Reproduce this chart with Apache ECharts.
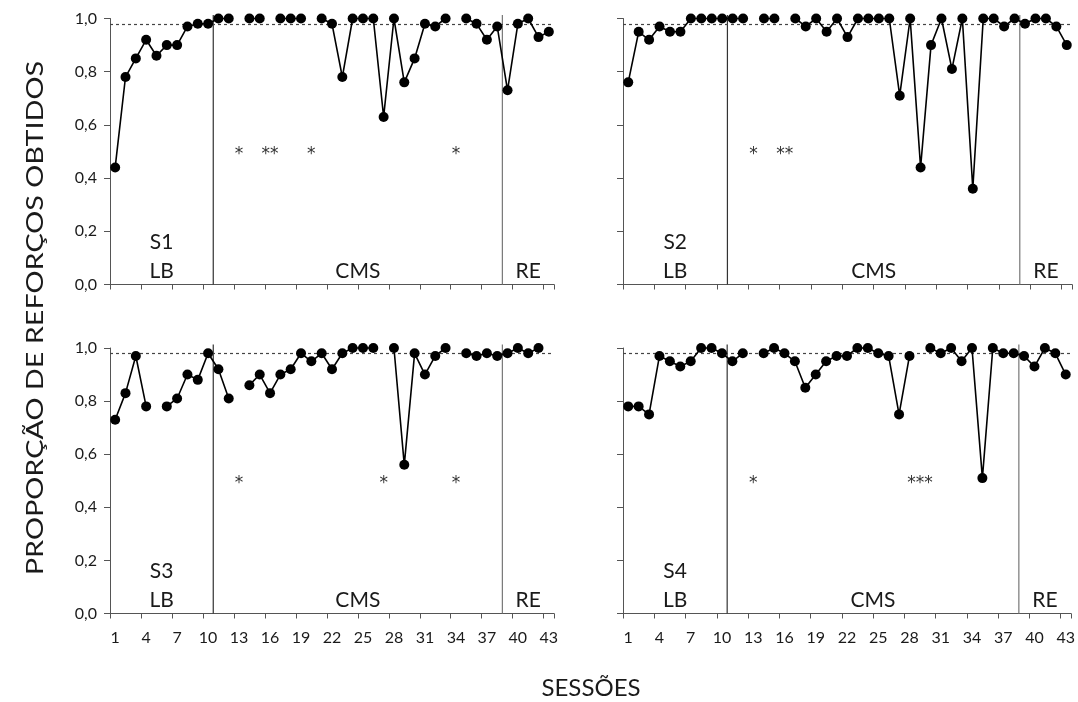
<!DOCTYPE html>
<html>
<head>
<meta charset="utf-8">
<script src="https://cdn.jsdelivr.net/npm/echarts@6/dist/echarts.min.js"></script>
<style>html,body{margin:0;padding:0;background:#fff}#c{width:1078px;height:702px}</style>
</head>
<body>
<div id="c"></div>
<script>
// ---- data ----
const sessions = ['1','2','3','4','5','6','7','8','9','10','11','12','13','14','15','16','17','18','19','20','21','22','23','24','25','26','27','28','29','30','31','32','33','34','35','36','37','38','39','40','41','42','43'];
const yTicks = [0, 0.2, 0.4, 0.6, 0.8, 1.0];
const criterion = 0.985;
const phaseBounds = [0.5, 10.5, 38.5, 43.5];
const phaseNames = ['LB', 'CMS', 'RE'];
const subjects = ['S1', 'S2', 'S3', 'S4'];

const S1 = [0.44,0.78,0.85,0.92,0.86,0.90,0.90,0.97,0.98,0.98,
            1.0,1.0,null,1.0,1.0,null,1.0,1.0,1.0,null,
            1.0,0.98,0.78,1.0,1.0,1.0,0.63,1.0,0.76,0.85,
            0.98,0.97,1.0,null,1.0,0.98,0.92,0.97,
            0.73,0.98,1.0,0.93,0.95];
const S2 = [0.76,0.95,0.92,0.97,0.95,0.95,1.0,1.0,1.0,1.0,
            1.0,1.0,null,1.0,1.0,null,1.0,0.97,1.0,0.95,
            1.0,0.93,1.0,1.0,1.0,1.0,0.71,1.0,0.44,0.90,
            1.0,0.81,1.0,0.36,1.0,1.0,0.97,1.0,
            0.98,1.0,1.0,0.97,0.90];
const S3 = [0.73,0.83,0.97,0.78,null,0.78,0.81,0.90,0.88,0.98,
            0.92,0.81,null,0.86,0.90,0.83,0.90,0.92,0.98,0.95,
            0.98,0.92,0.98,1.0,1.0,1.0,null,1.0,0.56,0.98,
            0.90,0.97,1.0,null,0.98,0.97,0.98,0.97,
            0.98,1.0,0.98,1.0,null];
const S4 = [0.78,0.78,0.75,0.97,0.95,0.93,0.95,1.0,1.0,0.98,
            0.95,0.98,null,0.98,1.0,0.98,0.95,0.85,0.90,0.95,
            0.97,0.97,1.0,1.0,0.98,0.97,0.75,0.97,null,1.0,
            0.98,1.0,0.95,1.0,0.51,1.0,0.98,0.98,
            0.97,0.93,1.0,0.98,0.90];

const stars1 = [[13,'*'],[16,'**'],[20,'*'],[34,'*']];
const stars2 = [[13,'*'],[16,'**']];
const stars3 = [[13,'*'],[27,'*'],[34,'*']];
const stars4 = [[13,'*'],[29,'***']];

const seriesData = [S1, S2, S3, S4];
const starsData = [stars1, stars2, stars3, stars4];

// ---- layout ----
const FONT = 'Lato, "Open Sans", sans-serif';
const TXT = '#1a1a1a';
const AX = '#555';
const grids = [
  {left:110, top:18.5, width:444, height:266},
  {left:623, top:18.5, width:449, height:266},
  {left:110, top:348, width:444, height:265.5},
  {left:623, top:348, width:449, height:265.5}
];

const xAxes = [], yAxes = [], series = [];
grids.forEach((g, i) => {
  const isLeft = i % 2 === 0, isBottom = i >= 2;
  xAxes.push({
    type:'category', gridIndex:i, data:sessions, boundaryGap:true,
    axisLine:{show:true, onZero:false, lineStyle:{color:AX, width:1}},
    axisTick:{show:true, interval:2, length:5, inside:false, lineStyle:{color:AX}},
    axisLabel:{show:isBottom, interval:2, margin:16, fontSize:16, color:TXT, fontFamily:FONT},
    splitLine:{show:false}
  });
  xAxes.push({
    type:'value', gridIndex:i, min:phaseBounds[0], max:phaseBounds[3], show:false
  });
  yAxes.push({
    type:'value', gridIndex:i, min:0, max:1, interval:0.2,
    axisLine:{show:true, lineStyle:{color:AX, width:1}},
    axisTick:{show:true, length:6, inside:false, lineStyle:{color:AX}},
    axisLabel:{show:isLeft, margin:13, fontSize:16, color:TXT, fontFamily:FONT,
      formatter:v => v.toFixed(1).replace('.', ',')},
    splitLine:{show:false}
  });

  // main data line
  series.push({
    type:'line', xAxisIndex:2*i, yAxisIndex:i, data:seriesData[i],
    symbol:'circle', symbolSize:10, showSymbol:true, showAllSymbol:true,
    connectNulls:false, clip:false,
    itemStyle:{color:'#000'}, lineStyle:{color:'#000', width:1.6},
    z:5, silent:true,
    markLine:{
      silent:true, symbol:'none', label:{show:false},
      lineStyle:{color:'#444', type:[3,3], width:1.2},
      data:[{yAxis:criterion}], z:3
    }
  });

  // phase dividers
  [phaseBounds[1], phaseBounds[2]].forEach((b, k) => {
    series.push({
      type:'line', xAxisIndex:2*i+1, yAxisIndex:i, data:[[b,0],[b,1.013]],
      symbol:'none', clip:false, silent:true,
      lineStyle:{color:k === 0 ? '#333' : '#777', width:1.2}, z:2
    });
  });

  // star annotations
  series.push({
    type:'scatter', xAxisIndex:2*i+1, yAxisIndex:i, symbolSize:0, silent:true,
    itemStyle:{opacity:1},
    data:starsData[i].map(d => ({value:[d[0], 0.5], name:d[1]})),
    label:{show:true, position:'inside', offset:[0, 3], formatter:p => p.name, fontSize:17,
      color:'#333', fontFamily:'"DejaVu Sans", sans-serif'}
  });

  // phase labels + subject label
  const labels = phaseNames.map((n, k) => ({
    value:[(phaseBounds[k] + phaseBounds[k+1]) / 2, 0.05], name:n
  }));
  labels.push({value:[(phaseBounds[0] + phaseBounds[1]) / 2, 0.16], name:subjects[i]});
  series.push({
    type:'scatter', xAxisIndex:2*i+1, yAxisIndex:i, symbolSize:0, silent:true,
    itemStyle:{opacity:1},
    data:labels,
    label:{show:true, position:'inside', formatter:p => p.name, fontSize:21, color:TXT, fontFamily:FONT}
  });
});

const chart = echarts.init(document.getElementById('c'), null, {renderer:'canvas'});
chart.setOption({
  animation:false,
  backgroundColor:'#fff',
  grid:grids,
  xAxis:xAxes,
  yAxis:yAxes,
  series:series,
  graphic:[
    {type:'text', x:35, y:318, rotation:Math.PI/2, scaleX:1.2,
     style:{text:'PROPORÇÃO DE REFORÇOS OBTIDOS', fill:TXT, fontSize:24, fontFamily:FONT, align:'center', verticalAlign:'middle'}},
    {type:'text', x:591, y:688,
     style:{text:'SESSÕES', fill:TXT, fontSize:24, fontFamily:FONT, align:'center', verticalAlign:'middle'}}
  ]
});
</script>
</body>
</html>
